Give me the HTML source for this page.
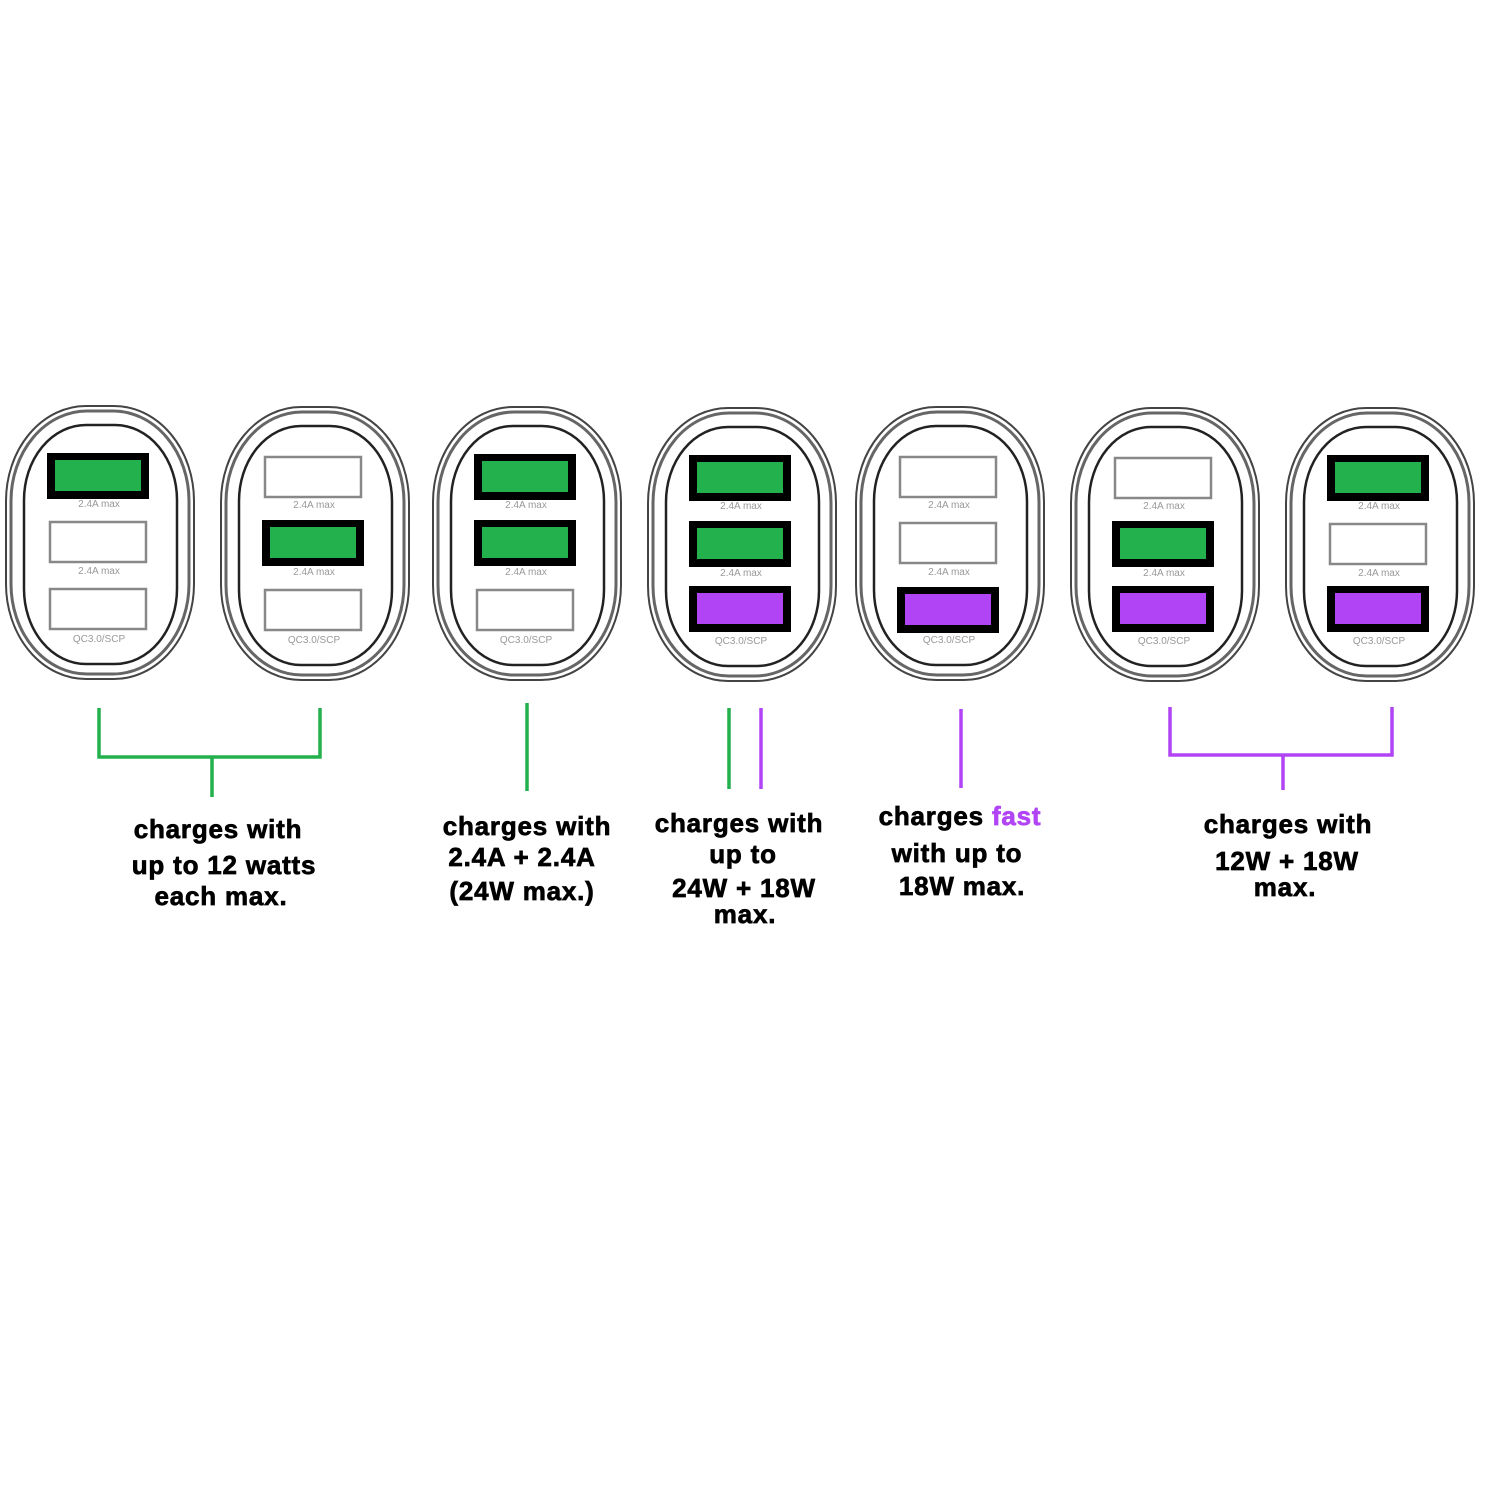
<!DOCTYPE html>
<html><head><meta charset="utf-8"><style>
html,body{margin:0;padding:0;background:#fff}
svg{display:block}
text{font-family:"Liberation Sans",Arial,sans-serif;font-weight:bold;font-size:26px;fill:#000;stroke:#000;stroke-width:0.7px;letter-spacing:0.8px}
.s{font-size:10px;font-weight:normal;fill:#999;stroke:none;letter-spacing:0}
</style></head><body>
<svg width="1500" height="1498" viewBox="0 0 1500 1498" xmlns="http://www.w3.org/2000/svg">
<defs>
<g id="body">
<rect x="6" y="406" width="188" height="273" rx="80" ry="95" fill="none" stroke="#444" stroke-width="2"/>
<rect x="11" y="411" width="178" height="263" rx="76" ry="90" fill="none" stroke="#666" stroke-width="3"/>
<rect x="24" y="425" width="153" height="239" rx="62" ry="75" fill="none" stroke="#222" stroke-width="2.5"/>
<text class="s" x="99" y="507" text-anchor="middle">2.4A max</text>
<text class="s" x="99" y="574" text-anchor="middle">2.4A max</text>
<text class="s" x="99" y="642" text-anchor="middle">QC3.0/SCP</text>
</g>
<g id="w"><rect x="50" y="0" width="96" height="40" fill="#fff" stroke="#888" stroke-width="2.5"/></g>
<g id="g"><rect x="47" y="-3" width="102" height="46" fill="#000"/><rect x="55" y="4" width="86" height="31" fill="#22b14c"/></g>
<g id="p"><rect x="47" y="-3" width="102" height="46" fill="#000"/><rect x="55" y="4" width="86" height="31" fill="#b144f5"/></g>
</defs>
<g><use href="#body"/><use href="#g" y="456"/><use href="#w" y="522"/><use href="#w" y="589"/></g>
<g transform="translate(215,1)"><use href="#body"/><use href="#w" y="456"/><use href="#g" y="522"/><use href="#w" y="589"/></g>
<g transform="translate(427,1)"><use href="#body"/><use href="#g" y="456"/><use href="#g" y="522"/><use href="#w" y="589"/></g>
<g transform="translate(642,2)"><use href="#body"/><use href="#g" y="456"/><use href="#g" y="522"/><use href="#p" y="587"/></g>
<g transform="translate(850,1)"><use href="#body"/><use href="#w" y="456"/><use href="#w" y="522"/><use href="#p" y="589"/></g>
<g transform="translate(1065,2)"><use href="#body"/><use href="#w" y="456"/><use href="#g" y="522"/><use href="#p" y="587"/></g>
<g transform="translate(1280,2)"><use href="#body"/><use href="#g" y="456"/><use href="#w" y="522"/><use href="#p" y="587"/></g>
<g fill="none" stroke-width="3.5">
<path d="M99 708 V757 H320 V708 M212 757 V797" stroke="#22b14c"/>
<path d="M527 703 V791" stroke="#22b14c"/>
<path d="M729 708 V789" stroke="#22b14c"/>
<path d="M761 708 V789" stroke="#b144f5"/>
<path d="M961 709 V788" stroke="#b144f5"/>
<path d="M1170 707 V755 H1392 V707 M1283 755 V790" stroke="#b144f5"/>
</g>
<g text-anchor="middle">
<text x="218" y="838">charges with</text>
<text x="224" y="874">up to 12 watts</text>
<text x="221" y="905">each max.</text>
<text x="527" y="835">charges with</text>
<text x="522" y="866">2.4A + 2.4A</text>
<text x="522" y="900">(24W max.)</text>
<text x="739" y="832">charges with</text>
<text x="743" y="863">up to</text>
<text x="744" y="897">24W + 18W</text>
<text x="745" y="923">max.</text>
<text x="960" y="825">charges <tspan fill="#b144f5" stroke="#b144f5">fast</tspan></text>
<text x="957" y="862">with up to</text>
<text x="962" y="895">18W max.</text>
<text x="1288" y="833">charges with</text>
<text x="1287" y="870">12W + 18W</text>
<text x="1285" y="896">max.</text>
</g>
</svg>
</body></html>
